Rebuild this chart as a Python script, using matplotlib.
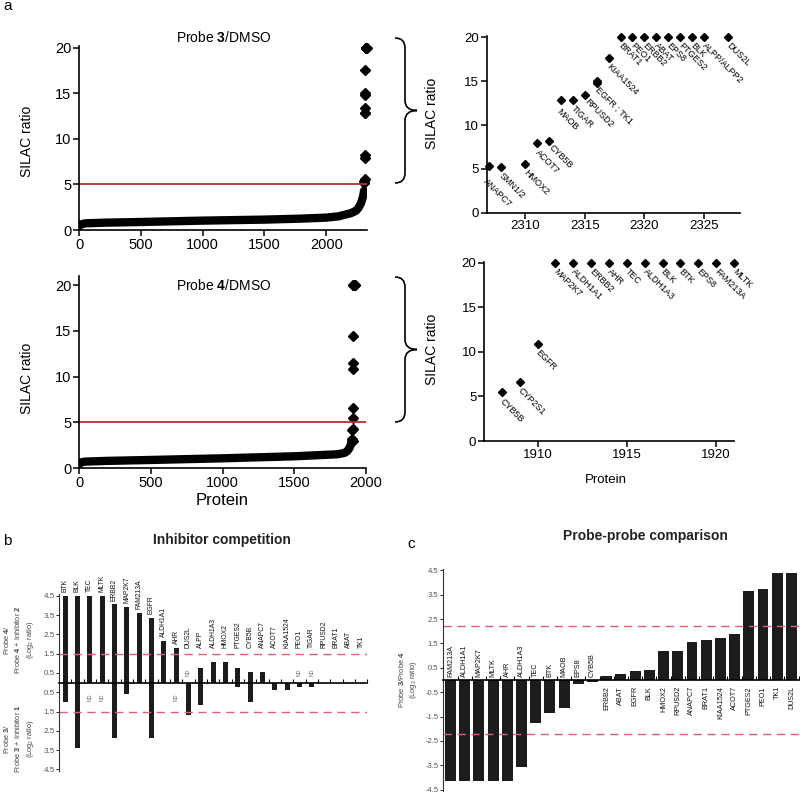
import numpy as np
import matplotlib
matplotlib.use('Agg')
import matplotlib.pyplot as plt
from matplotlib.path import Path
from matplotlib.patches import PathPatch

plt.rcParams['font.family'] = ['Liberation Sans', 'DejaVu Sans']
plt.rcParams['mathtext.fontset'] = 'custom'
plt.rcParams['mathtext.rm'] = 'Liberation Sans'
plt.rcParams['mathtext.bf'] = 'Liberation Sans:bold'
plt.rcParams['mathtext.it'] = 'Liberation Sans:italic'

# ---------------- data ----------------
# Panel a, Probe 3/DMSO: bulk of sorted SILAC ratios (read at selected ranks)
p3_curve_rank = [0, 10, 50, 200, 500, 1000, 1500, 1800, 2000, 2100, 2200, 2240, 2260, 2280, 2290, 2300, 2306]
p3_curve_ratio = [0.42, 0.6, 0.73, 0.8, 0.88, 1.03, 1.14, 1.25, 1.36, 1.5, 1.85, 2.1, 2.4, 2.9, 3.3, 3.8, 4.3]
p3_top_rank = [2307, 2308, 2310, 2311, 2312, 2313, 2314, 2315, 2316, 2316, 2317,
               2318, 2319, 2320, 2321, 2322, 2323, 2324, 2325, 2327]
p3_top_ratio = [5.35, 5.2, 5.6, 7.9, 8.2, 12.85, 12.85, 13.4, 15.0, 14.8, 17.6,
                20, 20, 20, 20, 20, 20, 20, 20, 20]
p3_top_label = ['ANAPC7', 'SMN1/2', 'HMOX2', 'ACOT7', 'CYB5B', 'MAOB', 'TIGAR', 'RPUSD2',
                'EGFR ; TK1', '', 'KIAA1524', 'BRAT1', 'PEO1', 'ERBB2', 'ABAT', 'EPS8',
                'PTGES2', 'BLK', 'ALPP/ALPP2', 'DUS2L']

# Panel a, Probe 4/DMSO
p4_curve_rank = [0, 10, 40, 200, 500, 1000, 1500, 1800, 1850, 1870, 1885, 1895, 1900]
p4_curve_ratio = [0.42, 0.6, 0.7, 0.78, 0.88, 1.06, 1.28, 1.5, 1.65, 1.85, 2.2, 2.6, 3.0]
p4_extra_rank = [1903, 1905, 1906, 1907, 1910, 1910]
p4_extra_ratio = [3.2, 4.2, 4.3, 3.0, 11.5, 14.4]
p4_top_rank = [1908, 1909, 1910, 1911, 1912, 1913, 1914, 1915, 1916, 1917, 1918, 1919, 1920, 1921]
p4_top_ratio = [5.45, 6.6, 10.85, 20, 20, 20, 20, 20, 20, 20, 20, 20, 20, 20]
p4_top_label = ['CYB5B', 'CYP2S1', 'EGFR', 'MAP2K7', 'ALDH1A1', 'ERBB2', 'AHR', 'TEC',
                'ALDH1A3', 'BLK', 'BTK', 'EPS8', 'FAM213A', 'MLTK']
silac_cutoff = 5

# Panel b, inhibitor competition (log2 ratios; nan = ND)
nd = np.nan
b_genes = ['BTK', 'BLK', 'TEC', 'MLTK', 'ERBB2', 'MAP2K7', 'FAM213A', 'EGFR', 'ALDH1A1', 'AHR',
           'DUS2L', 'ALPP', 'ALDH1A3', 'HMOX2', 'PTGES2', 'CYB5B', 'ANAPC7', 'ACOT7', 'KIAA1524',
           'PEO1', 'TIGAR', 'RPUSD2', 'BRAT1', 'ABAT', 'TK1']
b_probe4 = [4.5, 4.5, 4.5, 4.5, 4.05, 3.93, 3.59, 3.33, 2.14, 1.81,
            nd, 0.74, 1.05, 1.05, 0.74, 0.56, 0.56, 0, 0,
            nd, nd, 0, 0, 0, 0]
b_probe3 = [1.0, 3.4, nd, nd, 2.89, 0.59, 0, 2.85, 0, nd,
            1.68, 1.16, 0, 0, 0.24, 0.99, 0, 0.38, 0.38,
            0.25, 0.21, 0, 0, 0, 0]
b_cutoff = 1.5

# Panel c, probe-probe comparison
c_genes = ['FAM213A', 'ALDH1A1', 'MAP2K7', 'MLTK', 'AHR', 'ALDH1A3', 'TEC', 'BTK', 'MAOB', 'EPS8',
           'CYB5B', 'ERBB2', 'ABAT', 'EGFR', 'BLK', 'HMOX2', 'RPUSD2', 'ANAPC7', 'BRAT1', 'KIAA1524',
           'ACOT7', 'PTGES2', 'PEO1', 'TK1', 'DUS2L']
c_ratio = [-4.16, -4.16, -4.16, -4.16, -4.16, -3.55, -1.78, -1.37, -1.14, -0.15,
           -0.08, 0.18, 0.26, 0.35, 0.4, 1.17, 1.19, 1.55, 1.62, 1.71,
           1.87, 3.63, 3.72, 4.4, 4.4]
c_cutoff = 2.2

# ---------------- figure ----------------
W, H = 800, 796
fig = plt.figure(figsize=(8, 7.96), dpi=100)


def ax_px(left, top, right, bottom):
    return fig.add_axes([left / W, 1 - bottom / H, (right - left) / W, (bottom - top) / H])


def ftext(x, y, s, **kw):
    return fig.text(x / W, 1 - y / H, s, **kw)


def style_a(ax, fs):
    for s in ['top', 'right']:
        ax.spines[s].set_visible(False)
    for s in ['left', 'bottom']:
        ax.spines[s].set_linewidth(1.2)
    ax.tick_params(width=1.1, length=4, labelsize=fs, pad=1.5)


def brace(x0, y_top, y_bot, x_mid, x_tip, r=10):
    y_tip = (y_top + y_bot) / 2
    pts = [(x0, y_top), (x_mid, y_top), (x_mid, y_top + r), (x_mid, y_tip - r),
           (x_mid, y_tip), (x_tip, y_tip), (x_mid, y_tip), (x_mid, y_tip + r),
           (x_mid, y_bot - r), (x_mid, y_bot), (x0, y_bot)]
    codes = [Path.MOVETO, Path.CURVE3, Path.CURVE3, Path.LINETO,
             Path.CURVE3, Path.CURVE3, Path.CURVE3, Path.CURVE3,
             Path.LINETO, Path.CURVE3, Path.CURVE3]
    pts = [(x / W, 1 - y / H) for x, y in pts]
    fig.patches.append(PathPatch(Path(pts, codes), transform=fig.transFigure,
                                 fill=False, lw=1.2, color='black'))


red = '#b3312f'

# --- top-left: Probe 3 / DMSO
ax1 = ax_px(79, 46, 367, 230)
ax1.plot(p3_curve_rank, p3_curve_ratio, '-', color='black', lw=6, solid_capstyle='round')
ax1.plot(p3_top_rank, p3_top_ratio, 'D', color='black', ms=5, clip_on=False)
ax1.axhline(silac_cutoff, color=red, lw=1.3)
ax1.set_xlim(0, 2330)
ax1.set_ylim(0, 20.2)
ax1.set_xticks([0, 500, 1000, 1500, 2000])
ax1.set_yticks([0, 5, 10, 15, 20])
style_a(ax1, 10.5)
ftext(224, 38, r'Probe $\mathbf{3}$/DMSO', ha='center', va='center', fontsize=10)
ftext(27, 141, 'SILAC ratio', rotation=90, ha='center', va='center', fontsize=10)

# --- bottom-left: Probe 4 / DMSO
ax2 = ax_px(79, 276, 366, 468)
ax2.plot(p4_curve_rank, p4_curve_ratio, '-', color='black', lw=6, solid_capstyle='round')
ax2.plot(p4_extra_rank, p4_extra_ratio, 'D', color='black', ms=5, clip_on=False)
ax2.plot(p4_top_rank, p4_top_ratio, 'D', color='black', ms=5, clip_on=False)
ax2.axhline(silac_cutoff, color=red, lw=1.3)
ax2.set_xlim(0, 2000)
ax2.set_ylim(0, 21)
ax2.set_xticks([0, 500, 1000, 1500, 2000])
ax2.set_yticks([0, 5, 10, 15, 20])
style_a(ax2, 10.5)
ftext(224, 285, r'Probe $\mathbf{4}$/DMSO', ha='center', va='center', fontsize=10)
ftext(27, 378, 'SILAC ratio', rotation=90, ha='center', va='center', fontsize=10)
ftext(222, 500, 'Protein', ha='center', va='center', fontsize=12)

# --- top-right zoom
ax3 = ax_px(486.7, 36, 740, 212.7)
ax3.plot(p3_top_rank, p3_top_ratio, 'D', color='black', ms=4.3, clip_on=False)
for xr, yr, lab in zip(p3_top_rank, p3_top_ratio, p3_top_label):
    if not lab:
        continue
    off = (2, -3)
    if lab == 'ANAPC7':
        off = (-1, -8)
    elif lab == 'MAOB':
        off = (0, -5)
    elif lab in ('CYB5B', 'RPUSD2'):
        off = (3.5, -1.5)
    ax3.annotate(lab, (xr, yr), xytext=off, textcoords='offset points', rotation=-45,
                 rotation_mode='anchor', ha='left', va='top', fontsize=6.5,
                 annotation_clip=False)
ax3.set_xlim(2306.8, 2328)
ax3.set_ylim(0, 20.15)
ax3.set_xticks([2310, 2315, 2320, 2325])
ax3.set_yticks([0, 5, 10, 15, 20])
style_a(ax3, 9.5)
ftext(432, 113, 'SILAC ratio', rotation=90, ha='center', va='center', fontsize=10)

# --- bottom-right zoom
ax4 = ax_px(484, 261.7, 734, 441)
ax4.plot(p4_top_rank, p4_top_ratio, 'D', color='black', ms=4.3, clip_on=False)
for xr, yr, lab in zip(p4_top_rank, p4_top_ratio, p4_top_label):
    ax4.annotate(lab, (xr, yr), xytext=(2, -3), textcoords='offset points', rotation=-45,
                 rotation_mode='anchor', ha='left', va='top', fontsize=6.5,
                 annotation_clip=False)
ax4.set_xlim(1907, 1921)
ax4.set_ylim(0, 20.1)
ax4.set_xticks([1910, 1915, 1920])
ax4.set_yticks([0, 5, 10, 15, 20])
style_a(ax4, 9.5)
ftext(432, 349, 'SILAC ratio', rotation=90, ha='center', va='center', fontsize=10)
ftext(606, 480, 'Protein', ha='center', va='center', fontsize=9.5)

brace(395, 38, 183, 405, 417)
brace(395, 277, 422, 405, 417)
ftext(3, 6, 'a', ha='left', va='center', fontsize=11)

# --- panel b
barc = '#1c1c1c'
dash = '#e0607a'
axb = ax_px(59, 593.8, 367.3, 771.4)
xb = np.arange(len(b_genes))
up = np.nan_to_num(np.array(b_probe4, dtype=float))
dn = np.nan_to_num(np.array(b_probe3, dtype=float))
axb.bar(xb, up, width=0.42, color=barc)
axb.bar(xb, -dn, width=0.42, color=barc)
axb.axhline(b_cutoff, color=dash, lw=1.0, dashes=(6, 4))
axb.axhline(-b_cutoff, color=dash, lw=1.0, dashes=(6, 4))
axb.set_xlim(-0.5, 24.5)
axb.set_ylim(-4.6, 4.6)
for s in ['top', 'right']:
    axb.spines[s].set_visible(False)
axb.spines['bottom'].set_position(('data', 0))
axb.spines['bottom'].set_linewidth(1.2)
axb.spines['left'].set_linewidth(0.8)
axb.spines['left'].set_color('#333333')
axb.set_xticks(xb + 0.5)
axb.set_xticklabels([])
axb.tick_params(axis='x', direction='in', length=3, width=0.8)
bt = [4.5, 3.5, 2.5, 1.5, 0.5, -0.5, -1.5, -2.5, -3.5, -4.5]
axb.set_yticks(bt)
axb.set_yticklabels([f'{abs(v):.1f}' for v in bt])
axb.tick_params(axis='y', length=2, width=0.6, labelsize=5.8, labelcolor='#555555', pad=1)
for i, g in enumerate(b_genes):
    u = b_probe4[i]
    top = max(0 if np.isnan(u) else u, b_cutoff + 0.1)
    axb.text(i, top + 0.2, g, rotation=90, ha='center', va='bottom', fontsize=4.9,
             color='#111111')
    if np.isnan(u):
        axb.text(i, 0.55, 'ND', rotation=90, ha='center', va='center', fontsize=3.8,
                 color='#666666')
    if np.isnan(b_probe3[i]):
        axb.text(i, -0.75, 'ND', rotation=90, ha='center', va='center', fontsize=3.8,
                 color='#666666')
ftext(19, 640, 'Probe $\\mathbf{4}$/\nProbe $\\mathbf{4}$ + Inhibitor $\\mathbf{2}$\n(Log$_2$ ratio)',
      rotation=90, ha='center', va='center', fontsize=5.3, color='#444444', linespacing=1.35,
      multialignment='center')
ftext(19, 739, 'Probe $\\mathbf{3}$/\nProbe $\\mathbf{3}$ + Inhibitor $\\mathbf{1}$\n(Log$_2$ ratio)',
      rotation=90, ha='center', va='center', fontsize=5.3, color='#444444', linespacing=1.35,
      multialignment='center')
ftext(222, 540, 'Inhibitor competition', ha='center', va='center', fontsize=10,
      fontweight='bold', color='#222222')
ftext(3, 541, 'b', ha='left', va='center', fontsize=11)

# --- panel c
axc = ax_px(442.7, 569, 798.5, 791)
xc = np.arange(len(c_genes))
axc.bar(xc, c_ratio, width=0.77, color=barc)
axc.axhline(c_cutoff, color=dash, lw=1.0, dashes=(6, 4))
axc.axhline(-c_cutoff, color=dash, lw=1.0, dashes=(6, 4))
axc.set_xlim(-0.55, 24.5)
axc.set_ylim(-4.55, 4.55)
for s in ['top', 'right']:
    axc.spines[s].set_visible(False)
axc.spines['bottom'].set_position(('data', 0))
axc.spines['bottom'].set_linewidth(1.2)
axc.spines['left'].set_linewidth(0.8)
axc.spines['left'].set_color('#333333')
axc.set_xticks(xc + 0.5)
axc.set_xticklabels([])
axc.tick_params(axis='x', direction='in', length=3, width=0.8)
ct = [4.5, 3.5, 2.5, 1.5, 0.5, -0.5, -1.5, -2.5, -3.5, -4.5]
axc.set_yticks(ct)
axc.set_yticklabels([f'{v:.1f}' for v in ct])
axc.tick_params(axis='y', length=2, width=0.6, labelsize=5.5, labelcolor='#555555', pad=1)
for i, (g, v) in enumerate(zip(c_genes, c_ratio)):
    if v < 0:
        axc.text(i, 0.12, g, rotation=90, ha='center', va='bottom', fontsize=5.2, color='#111111')
    else:
        axc.text(i, -0.25, g, rotation=90, ha='center', va='top', fontsize=5.2, color='#111111')
ftext(408, 680, 'Probe $\\mathbf{3}$/Probe $\\mathbf{4}$\n(Log$_2$ ratio)', rotation=90,
      ha='center', va='center', fontsize=5.4, color='#444444', linespacing=1.35,
      multialignment='center')
ftext(645, 536, 'Probe-probe comparison', ha='center', va='center', fontsize=10,
      fontweight='bold', color='#222222')
ftext(411, 544, 'c', ha='center', va='center', fontsize=11)

fig.savefig('out.png', dpi=100)
